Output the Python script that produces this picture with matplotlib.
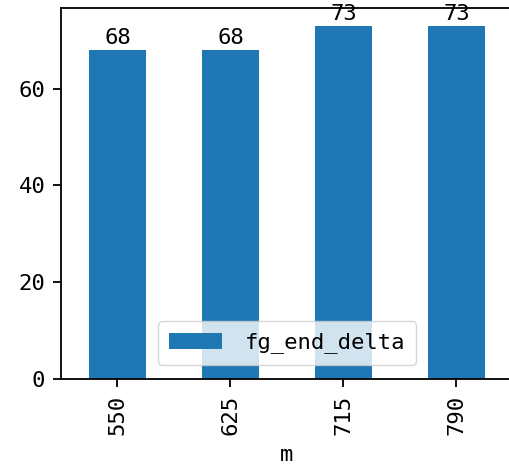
import matplotlib
matplotlib.use('Agg')
import matplotlib.pyplot as plt
import numpy as np

# data
categories = ['550', '625', '715', '790']
fg_end_delta = [68, 68, 73, 73]
series_name = 'fg_end_delta'
x_label = 'm'

plt.rcParams['font.family'] = ['DejaVu Sans Mono']
plt.rcParams['font.size'] = 16

fig = plt.figure(figsize=(5.1, 4.71), dpi=100)
ax = fig.add_axes([61 / 510, 92 / 471, 452 / 510, 371 / 471])

x = np.arange(len(categories))
bars = ax.bar(x, fg_end_delta, width=0.5, color='#1f77b4', label=series_name)
ax.bar_label(bars, fontsize=16, padding=1)

ax.set_xlim(-0.5, len(categories) - 0.5)
ax.set_ylim(0, max(fg_end_delta) * 1.05)
ax.set_yticks([0, 20, 40, 60])
ax.set_xticks(x)
ax.set_xticklabels(categories, rotation=90)
ax.set_xlabel(x_label, labelpad=7)

for s in ax.spines.values():
    s.set_linewidth(1.3)
ax.tick_params(length=5.8, width=1.3, pad=5.6, labelsize=16)

ax.legend(loc='lower center', handlelength=2.4, handletextpad=1.0,
          borderpad=0.5, borderaxespad=0.65, fontsize=16)

fig.savefig('out.png', dpi=100)
